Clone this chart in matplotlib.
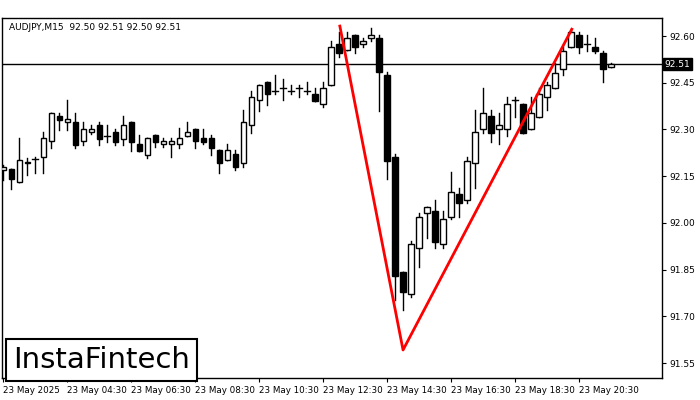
import matplotlib
matplotlib.use("Agg")
import matplotlib.pyplot as plt
from matplotlib.patches import Rectangle

opens = [92.170, 92.173, 92.131, 92.192, 92.205, 92.211, 92.263, 92.343, 92.324, 92.324,
         92.263, 92.292, 92.314, 92.279, 92.292, 92.269, 92.324, 92.253, 92.218, 92.282,
         92.253, 92.253, 92.253, 92.279, 92.301, 92.272, 92.272, 92.234, 92.202, 92.221,
         92.192, 92.314, 92.394, 92.452, 92.423, 92.433, 92.423, 92.433, 92.423, 92.414,
         92.382, 92.443, 92.574, 92.555, 92.603, 92.574, 92.594, 92.594, 92.475, 92.211,
         91.842, 91.772, 91.919, 92.032, 92.038, 91.932, 92.019, 92.093, 92.073, 92.192,
         92.301, 92.343, 92.301, 92.301, 92.394, 92.382, 92.301, 92.340, 92.404, 92.433,
         92.494, 92.565, 92.603, 92.574, 92.565, 92.545, 92.500]
highs = [92.186, 92.173, 92.272, 92.208, 92.211, 92.292, 92.353, 92.353, 92.394, 92.353,
         92.324, 92.314, 92.324, 92.314, 92.301, 92.343, 92.324, 92.282, 92.272, 92.282,
         92.272, 92.272, 92.305, 92.324, 92.301, 92.301, 92.282, 92.234, 92.253, 92.234,
         92.362, 92.423, 92.443, 92.452, 92.475, 92.462, 92.443, 92.443, 92.452, 92.433,
         92.452, 92.584, 92.613, 92.613, 92.603, 92.594, 92.626, 92.603, 92.484, 92.221,
         91.842, 91.942, 92.032, 92.051, 92.073, 92.038, 92.163, 92.112, 92.211, 92.362,
         92.433, 92.362, 92.353, 92.404, 92.404, 92.382, 92.404, 92.433, 92.452, 92.513,
         92.565, 92.622, 92.613, 92.603, 92.594, 92.552, 92.513]
lows = [92.138, 92.109, 92.131, 92.154, 92.160, 92.160, 92.240, 92.298, 92.298, 92.240,
        92.250, 92.285, 92.250, 92.260, 92.250, 92.250, 92.231, 92.231, 92.208, 92.244,
        92.244, 92.211, 92.240, 92.279, 92.240, 92.253, 92.218, 92.160, 92.202, 92.170,
        92.179, 92.289, 92.359, 92.378, 92.414, 92.394, 92.414, 92.404, 92.414, 92.391,
        92.372, 92.443, 92.533, 92.555, 92.545, 92.565, 92.584, 92.359, 92.141, 91.752,
        91.720, 91.762, 91.858, 91.951, 91.919, 91.919, 92.012, 92.019, 92.064, 92.112,
        92.289, 92.260, 92.253, 92.279, 92.340, 92.289, 92.301, 92.340, 92.362, 92.433,
        92.475, 92.565, 92.545, 92.552, 92.545, 92.452, 92.500]
closes = [92.179, 92.141, 92.202, 92.195, 92.204, 92.272, 92.353, 92.330, 92.333, 92.250,
          92.301, 92.301, 92.269, 92.278, 92.260, 92.314, 92.260, 92.231, 92.272, 92.260,
          92.263, 92.263, 92.272, 92.292, 92.263, 92.260, 92.240, 92.192, 92.234, 92.179,
          92.324, 92.404, 92.443, 92.414, 92.422, 92.432, 92.422, 92.432, 92.422, 92.391,
          92.433, 92.565, 92.545, 92.594, 92.565, 92.584, 92.603, 92.484, 92.199, 91.829,
          91.778, 91.932, 92.019, 92.051, 91.939, 92.012, 92.099, 92.064, 92.199, 92.292,
          92.353, 92.289, 92.314, 92.382, 92.393, 92.289, 92.353, 92.414, 92.443, 92.481,
          92.552, 92.613, 92.565, 92.573, 92.552, 92.494, 92.510]

# double top pattern lines (candle index, price)
pattern_x = [42.1, 50.0, 71.1]
pattern_y = [92.632, 91.592, 92.622]

last_price = 92.51
price_ticks = [92.60, 92.45, 92.30, 92.15, 92.00, 91.85, 91.70, 91.55]
time_labels = ["23 May 2025", "23 May 04:30", "23 May 06:30", "23 May 08:30", "23 May 10:30",
               "23 May 12:30", "23 May 14:30", "23 May 16:30", "23 May 18:30", "23 May 20:30"]
time_label_idx = [0, 8, 16, 24, 32, 40, 48, 56, 64, 72]

fig = plt.figure(figsize=(7, 4), dpi=100)
ax = fig.add_axes([0.003, 0.055, 0.943, 0.9])

for i, (o, h, l, c) in enumerate(zip(opens, highs, lows, closes)):
    ax.plot([i, i], [l, max(o, c)], color="black", lw=1)
    ax.plot([i, i], [min(o, c), h], color="black", lw=1)
    lo, hi = min(o, c), max(o, c)
    face = "white" if c >= o else "black"
    if hi - lo < 0.002:
        ax.plot([i - 0.35, i + 0.35], [o, o], color="black", lw=1)
    else:
        ax.add_patch(Rectangle((i - 0.32, lo), 0.64, hi - lo, facecolor=face,
                               edgecolor="black", lw=1, zorder=3))

ax.axhline(last_price, color="black", lw=1, zorder=1)
ax.plot(pattern_x, pattern_y, color="#ff0000", lw=2, zorder=4)

ax.set_xlim(-0.125, 82.4)
ax.set_ylim(91.502, 92.658)
ax.yaxis.tick_right()
ax.set_yticks(price_ticks)
ax.set_yticklabels([f"{t:.2f}" for t in price_ticks], fontsize=6.5)
ax.tick_params(axis="y", length=3, pad=2)
ax.set_xticks(time_label_idx)
ax.set_xticklabels(time_labels, fontsize=6.3, ha="left")
ax.tick_params(axis="x", length=3, pad=3)
for s in ax.spines.values():
    s.set_color("black")
    s.set_linewidth(1)

ax.text(1.004, last_price, f"{last_price:.2f}", transform=ax.get_yaxis_transform(),
        fontsize=6.5, color="white", va="center", ha="left",
        bbox=dict(facecolor="black", edgecolor="black", pad=1.2))
ax.text(0.01, 0.985, "AUDJPY,M15  92.50 92.51 92.50 92.51", transform=ax.transAxes,
        fontsize=6.5, va="top", ha="left")

fig.text(0.145, 0.1, "InstaFintech", fontsize=21, ha="center", va="center",
         bbox=dict(facecolor="white", edgecolor="black", lw=1.5,
                   boxstyle="square,pad=0.25"))

fig.savefig("out.png", dpi=100)
